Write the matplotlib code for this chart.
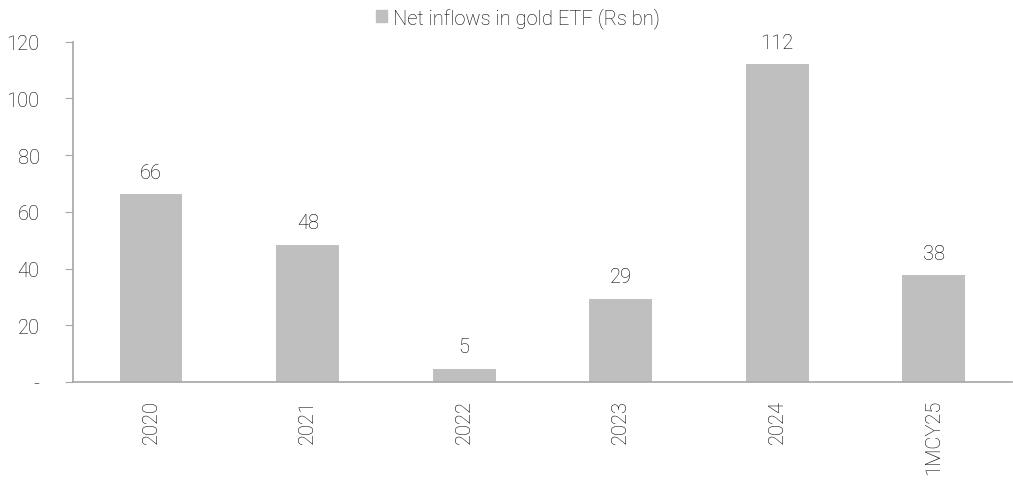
import matplotlib
matplotlib.use('Agg')
import matplotlib.pyplot as plt
from matplotlib.patches import Patch

categories = ['2020', '2021', '2022', '2023', '2024', '1MCY25']
inflows = [66.2, 48.3, 4.6, 29.3, 112.0, 37.6]
bar_labels = ['66', '48', '5', '29', '112', '38']
y_ticks = [0, 20, 40, 60, 80, 100, 120]
y_tick_labels = ['-', '20', '40', '60', '80', '100', '120']

plt.rcParams['font.family'] = ['Roboto', 'DejaVu Sans']
plt.rcParams['font.weight'] = 'light'

BAR = '#BFBFBF'
AXIS = '#A6A6A6'
TEXT = '#000000'
FS = 14.5

fig = plt.figure(figsize=(10.13, 4.81), dpi=100)
ax = fig.add_axes([0.072, 0.204, 0.927, 0.707])

x = range(len(categories))
ax.bar(x, inflows, width=0.4, color=BAR, zorder=2)
for xi, v, lab in zip(x, inflows, bar_labels):
    ax.annotate(lab, (xi, v), xytext=(0, 9), textcoords='offset points',
                ha='center', va='bottom', fontsize=FS, color=TEXT,
                fontweight='light')

ax.set_xlim(-0.5, len(categories) - 0.5)
ax.set_ylim(0, 120)
ax.set_yticks(y_ticks)
ax.set_yticklabels(y_tick_labels)
ax.set_xticks(list(x))
ax.set_xticklabels(categories, rotation=90)

for side in ('top', 'right'):
    ax.spines[side].set_visible(False)
for side in ('left', 'bottom'):
    ax.spines[side].set_color(AXIS)
    ax.spines[side].set_linewidth(1.2)
ax.tick_params(axis='y', length=6, color=AXIS, labelsize=FS, labelcolor=TEXT, pad=18)
ax.tick_params(axis='x', length=0, labelsize=FS, labelcolor=TEXT, pad=12)

fig.legend(handles=[Patch(color=BAR, label='Net inflows in gold ETF (Rs bn)')],
           loc='center', bbox_to_anchor=(0.511, 0.962), frameon=False,
           fontsize=FS, handlelength=0.55, handleheight=0.55, handletextpad=0.3,
           labelcolor=TEXT)

fig.savefig('out.png', dpi=100)
